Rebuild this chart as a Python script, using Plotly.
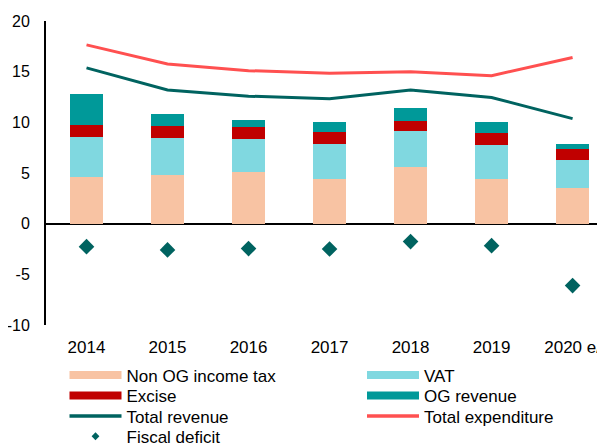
import plotly.graph_objects as go

years = ["2014", "2015", "2016", "2017", "2018", "2019", "2020 e/"]
non_og_income_tax = [4.56, 4.83, 5.09, 4.40, 5.55, 4.43, 3.52]
vat = [4.04, 3.64, 3.28, 3.51, 3.55, 3.35, 2.79]
excise = [1.15, 1.21, 1.15, 1.09, 1.08, 1.12, 1.05]
og_revenue = [3.03, 1.16, 0.69, 1.05, 1.25, 1.12, 0.52]
total_revenue = [15.37, 13.20, 12.58, 12.32, 13.20, 12.45, 10.37]
total_expenditure = [17.64, 15.76, 15.10, 14.85, 15.00, 14.60, 16.40]
fiscal_deficit = [-2.27, -2.59, -2.46, -2.50, -1.77, -2.17, -6.11]
y_tick_values = [-10, -5, 0, 5, 10, 15, 20]
y_tick_labels = ["-10", "-5", "0", "5", "10", "15", "20"]

FONT = "Arial, Liberation Sans, sans-serif"
C_NONOG = "#F8C3A3"
C_VAT = "#80D8E0"
C_EXC = "#C00000"
C_OG = "#009999"
C_REV = "#006360"
C_EXP = "#FF5050"

# the page body has an 8px margin, so the figure is 597x437 placed at (8, 8)
W, H = 597, 437

fig = go.Figure()

bar_series = [
    ("Non OG income tax", non_og_income_tax, C_NONOG),
    ("VAT", vat, C_VAT),
    ("Excise", excise, C_EXC),
    ("OG revenue", og_revenue, C_OG),
]
for name, vals, col in bar_series:
    fig.add_trace(go.Bar(x=years, y=vals, name=name, marker_color=col,
                         marker_line_width=0, width=0.4, showlegend=False))

fig.add_trace(go.Scatter(x=years, y=total_revenue, mode="lines", name="Total revenue",
                         line=dict(color=C_REV, width=3), showlegend=False))
fig.add_trace(go.Scatter(x=years, y=total_expenditure, mode="lines", name="Total expenditure",
                         line=dict(color=C_EXP, width=3), showlegend=False))
fig.add_trace(go.Scatter(x=years, y=fiscal_deficit, mode="markers", name="Fiscal deficit",
                         marker=dict(symbol="diamond", size=12, color=C_REV), showlegend=False))

# legend entries (wide swatches like the reference), one small legend per entry
legend_items = [
    ("Non OG income tax", C_NONOG, "bar"),
    ("VAT", C_VAT, "bar"),
    ("Excise", C_EXC, "bar"),
    ("OG revenue", C_OG, "bar"),
    ("Total revenue", C_REV, "line"),
    ("Total expenditure", C_EXP, "line"),
    ("Fiscal deficit", C_REV, "marker"),
]
col_px = [56.5, 354]
row_px = [367.5, 388.0, 408.5, 428.7]
layout_legends = {}
for i, (name, col, kind) in enumerate(legend_items):
    lname = "legend" if i == 0 else f"legend{i + 1}"
    if kind == "bar":
        tr = go.Scatter(x=[None], y=[None], mode="lines", name=name,
                        line=dict(color=col, width=8))
    elif kind == "line":
        tr = go.Scatter(x=[None], y=[None], mode="lines", name=name,
                        line=dict(color=col, width=3.5))
    else:
        tr = go.Scatter(x=[None], y=[None], mode="markers", name=name,
                        marker=dict(symbol="diamond", size=6, color=col))
    tr.legend = lname
    fig.add_trace(tr)
    r, c = divmod(i, 2)
    layout_legends[lname] = dict(
        xref="container", yref="container",
        x=col_px[c] / W, xanchor="left", y=1 - row_px[r] / H, yanchor="middle",
        itemwidth=52, font=dict(size=17), bgcolor="rgba(0,0,0,0)",
    )

fig.update_layout(
    width=W, height=H,
    barmode="stack",
    paper_bgcolor="white", plot_bgcolor="white",
    margin=dict(l=38, r=0, t=13, b=120, autoexpand=False),
    font=dict(family=FONT, size=17, color="black"),
    xaxis=dict(range=[-0.5, 6.4], showgrid=False, showline=False, ticks="",
               ticklabelstandoff=10, tickfont=dict(size=17)),
    yaxis=dict(range=[-10, 20], tickmode="array", tickvals=y_tick_values,
               ticktext=y_tick_labels, showgrid=False, showline=True,
               linecolor="black", linewidth=2, ticks="", ticklabelstandoff=11,
               zeroline=True, zerolinecolor="black", zerolinewidth=2,
               tickfont=dict(size=16)),
    showlegend=True,
    **layout_legends,
)

fig.write_html("out.html")
